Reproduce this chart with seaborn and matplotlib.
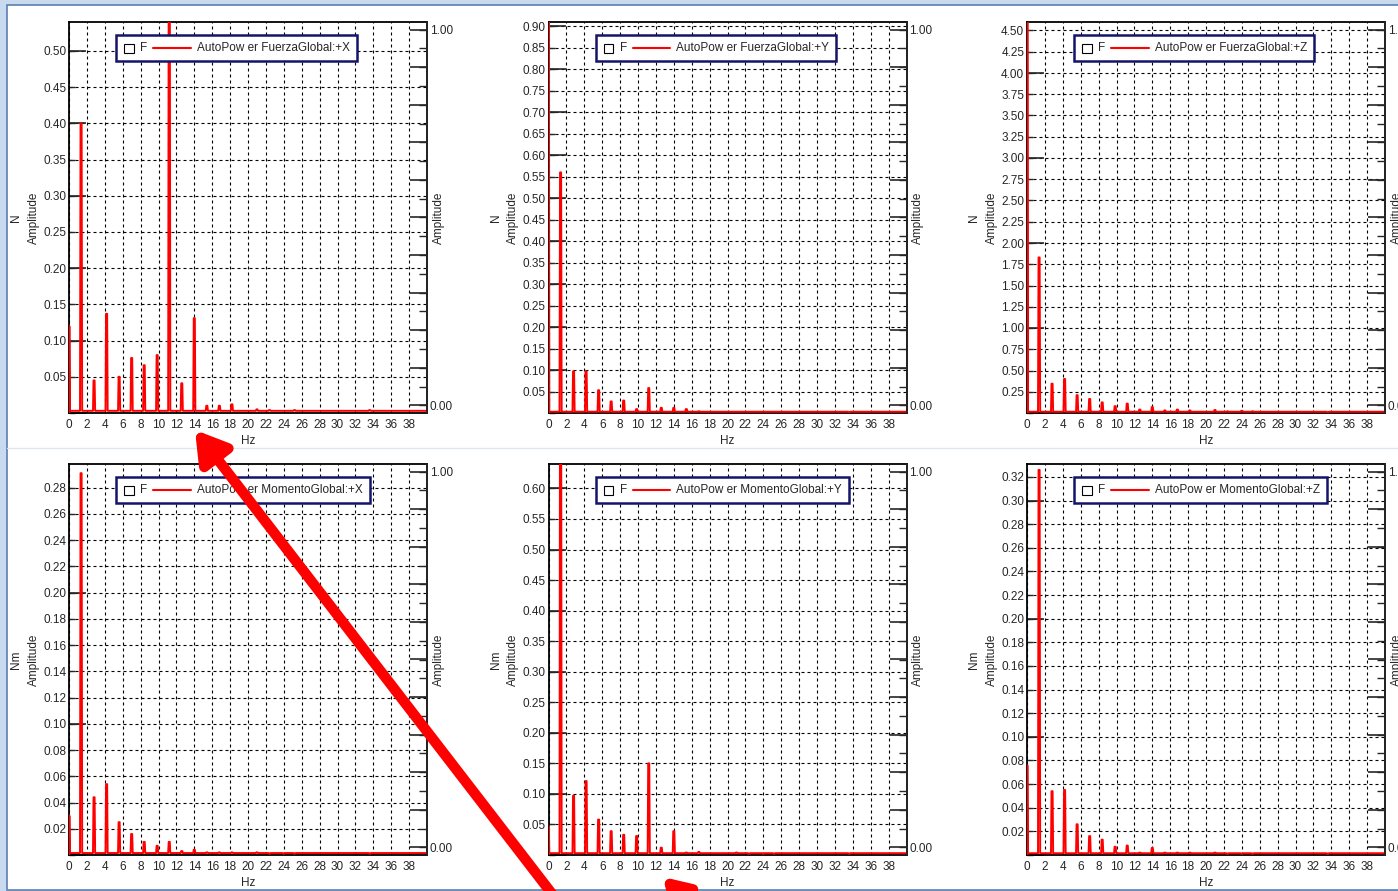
import matplotlib
matplotlib.use("Agg")
import matplotlib.pyplot as plt
import pandas as pd
import seaborn as sns
from matplotlib.lines import Line2D
from matplotlib.patches import Rectangle, FancyArrowPatch
from matplotlib.offsetbox import AnchoredOffsetbox, DrawingArea, HPacker, TextArea
from matplotlib.ticker import MultipleLocator, FuncFormatter

# ── Data ───────────────────────────────────────────────────────────────────
peak_hz = [1.35, 2.8, 4.2, 5.6, 7.0, 8.4, 9.85, 11.2, 12.6, 14.0,
           15.4, 16.8, 18.2, 21.0, 22.4, 24.0, 25.2, 33.6]

fuerza_x = [0.40, 0.045, 0.137, 0.050, 0.076, 0.066, 0.080, 0.62, 0.041, 0.131,
            0.010, 0.010, 0.012, 0.005, 0.004, 0.003, 0.004, 0.004]
fuerza_y = [0.560, 0.097, 0.097, 0.053, 0.027, 0.029, 0.009, 0.058, 0.012, 0.012,
            0.009, 0.004, 0.003, 0.003, 0.003, 0.003, 0.003, 0.002]
fuerza_z = [1.83, 0.345, 0.40, 0.21, 0.165, 0.125, 0.08, 0.11, 0.04, 0.07,
            0.03, 0.04, 0.03, 0.035, 0.02, 0.025, 0.02, 0.01]
momento_x = [0.291, 0.044, 0.054, 0.025, 0.016, 0.010, 0.007, 0.010, 0.003, 0.004,
             0.002, 0.002, 0.002, 0.002, 0.001, 0.001, 0.001, 0.001]
momento_y = [0.80, 0.097, 0.121, 0.058, 0.039, 0.033, 0.031, 0.150, 0.012, 0.039,
             0.004, 0.005, 0.003, 0.004, 0.002, 0.002, 0.002, 0.002]
momento_z = [0.326, 0.054, 0.055, 0.026, 0.016, 0.013, 0.007, 0.008, 0.002, 0.006,
             0.002, 0.002, 0.002, 0.002, 0.001, 0.001, 0.001, 0.001]

# value of the first (DC) bin and the noise floor of each spectrum
dc_values = [0.12, 1.0, 5.0, 0.030, 0.047, 0.076]
floor_values = [0.003, 0.003, 0.015, 0.0015, 0.003, 0.0015]

titles = ["AutoPow er FuerzaGlobal:+X", "AutoPow er FuerzaGlobal:+Y",
          "AutoPow er FuerzaGlobal:+Z", "AutoPow er MomentoGlobal:+X",
          "AutoPow er MomentoGlobal:+Y", "AutoPow er MomentoGlobal:+Z"]
units = ["N", "N", "N", "Nm", "Nm", "Nm"]
y_top = [0.54, 0.91, 4.60, 0.298, 0.64, 0.331]
y_step = [0.05, 0.05, 0.25, 0.02, 0.05, 0.02]
y_long_step = [0.1, 0.1, 1.0, 0.1, 0.1, 0.1]
series = [fuerza_x, fuerza_y, fuerza_z, momento_x, momento_y, momento_z]

RED = "#ff0000"
NAVY = "#14146b"

# ── Style ──────────────────────────────────────────────────────────────────
sns.set_style("white")
plt.rcParams["font.family"] = ["Liberation Sans", "DejaVu Sans"]
plt.rcParams["font.size"] = 8.5


def spectrum_frame(dc, floor, amps):
    # DC bin sits right on the left spine, each harmonic is a narrow spike
    hz = [0.04, 0.04, 0.09]
    amp = [0.0, dc, floor]
    for f, a in zip(peak_hz, amps):
        hz += [f - 0.12, f - 0.06, f + 0.06, f + 0.12]
        amp += [floor, a, a, floor]
    hz.append(40.0)
    amp.append(floor)
    return pd.DataFrame({"Hz": hz, "Amplitude": amp})


def add_key(ax, label):
    sq = DrawingArea(8, 8, 0, 0)
    sq.add_artist(Rectangle((0.5, 0.5), 7, 7, fc="white", ec="black", lw=0.8))
    ln = DrawingArea(27, 8, 0, 0)
    ln.add_artist(Line2D([0, 27], [4, 4], color=RED, lw=1.5))
    pack = HPacker(children=[sq, TextArea("F", textprops=dict(size=8.5)), ln,
                             TextArea(label, textprops=dict(size=8.5))],
                   align="center", pad=0, sep=4.2)
    box = AnchoredOffsetbox(loc="upper left", child=pack, pad=0.6, borderpad=0,
                            frameon=True, bbox_to_anchor=(0.132, 0.966),
                            bbox_transform=ax.transAxes, prop=dict(size=8.5))
    box.patch.set_edgecolor(NAVY)
    box.patch.set_linewidth(1.8)
    box.set_zorder(6)
    ax.add_artist(box)


W, H = 1398, 891
fig = plt.figure(figsize=(W / 100, H / 100), dpi=100, facecolor="#c7daf0")

# window frame + row separator
fig.add_artist(Rectangle((6.5 / W, 1.5 / H), 1.0, (886 - 1.5) / H,
                         transform=fig.transFigure, fc="white", ec="#5d7fb0",
                         lw=1.2, zorder=-1))
fig.add_artist(Line2D([6.5 / W, 1.0], [443 / H, 443 / H], transform=fig.transFigure,
                      color="#dfe6ee", lw=1.0, zorder=-0.5))

col_left = [69, 548.5, 1027]
row_top = [22, 464]
ax_w, ax_h = 358, 391

for i in range(6):
    r, c = divmod(i, 3)
    ax = fig.add_axes([col_left[c] / W, 1 - (row_top[r] + ax_h) / H, ax_w / W, ax_h / H])
    df = spectrum_frame(dc_values[i], floor_values[i], series[i])
    sns.lineplot(data=df, x="Hz", y="Amplitude", estimator=None, sort=False,
                 color=RED, lw=1.4, ax=ax, zorder=3, legend=False)

    ax.set_xlim(0, 40)
    ax.set_ylim(0, y_top[i])

    # x axis
    ax.xaxis.set_major_locator(MultipleLocator(2))
    ax.xaxis.set_minor_locator(MultipleLocator(10))
    ax.xaxis.remove_overlapping_locs = False
    ax.xaxis.set_major_formatter(FuncFormatter(lambda v, _: "" if v > 39 else f"{v:.0f}"))
    ax.tick_params(axis="x", which="major", direction="in", length=4, width=1,
                   labelsize=8.5, pad=4)
    ax.tick_params(axis="x", which="minor", direction="in", length=11, width=1.2)

    # left y axis
    ax.yaxis.set_major_locator(MultipleLocator(y_step[i]))
    ax.yaxis.set_minor_locator(MultipleLocator(y_long_step[i]))
    ax.yaxis.remove_overlapping_locs = False
    ax.yaxis.set_major_formatter(FuncFormatter(lambda v, _: "" if abs(v) < 1e-9 else f"{v:.2f}"))
    ax.tick_params(axis="y", which="major", direction="in", length=4, width=1,
                   labelsize=8.5, pad=2)
    ax.tick_params(axis="y", which="minor", direction="in", length=12, width=1.2)

    ax.grid(True, which="major", color="black", ls=(0, (2.7, 2.7)), lw=0.8)
    for s in ax.spines.values():
        s.set_color("black")
        s.set_linewidth(1.3)

    ax.set_xlabel("Hz", fontsize=8.5, labelpad=3)
    ax.set_ylabel(f"{units[i]}\nAmplitude", fontsize=8.5, linespacing=1.6)
    ax.yaxis.set_label_coords(-0.082, 0.5)

    # right normalised axis
    ax2 = ax.twinx()
    ax2.set_ylim(-0.02, 1.02)
    ax2.yaxis.set_major_locator(MultipleLocator(0.1))
    ax2.yaxis.set_minor_locator(MultipleLocator(0.05))
    ax2.yaxis.remove_overlapping_locs = False
    ax2.yaxis.set_major_formatter(FuncFormatter(
        lambda v, _: f"{v:.2f}" if abs(v) < 1e-9 or abs(v - 1) < 1e-9 else ""))
    ax2.tick_params(axis="y", which="major", direction="in", length=12, width=1.2,
                    labelsize=8.5, pad=2)
    ax2.tick_params(axis="y", which="minor", direction="in", length=6, width=1)
    for k in ["left", "top", "bottom"]:
        ax2.spines[k].set_visible(False)
    ax2.spines["right"].set_linewidth(1.3)
    ax2.set_ylabel("Amplitude", fontsize=8.5)
    ax2.yaxis.set_label_coords(1.016, 0.5)

    add_key(ax, titles[i])

# red annotation arrows drawn over the screenshot
fig.add_artist(FancyArrowPatch((556 / W, -8 / H), (195 / W, 461 / H),
                               transform=fig.transFigure,
                               arrowstyle="-|>,head_length=1.8,head_width=1.1",
                               mutation_scale=10, lw=7.5, color=RED,
                               shrinkA=0, shrinkB=0, zorder=10))
fig.add_artist(FancyArrowPatch((725 / W, -48 / H), (663 / W, 14 / H),
                               transform=fig.transFigure,
                               arrowstyle="-|>,head_length=1.45,head_width=0.9",
                               mutation_scale=10, lw=7.5, color=RED,
                               shrinkA=0, shrinkB=0, zorder=10))

fig.savefig("out.png", dpi=100, facecolor=fig.get_facecolor())
